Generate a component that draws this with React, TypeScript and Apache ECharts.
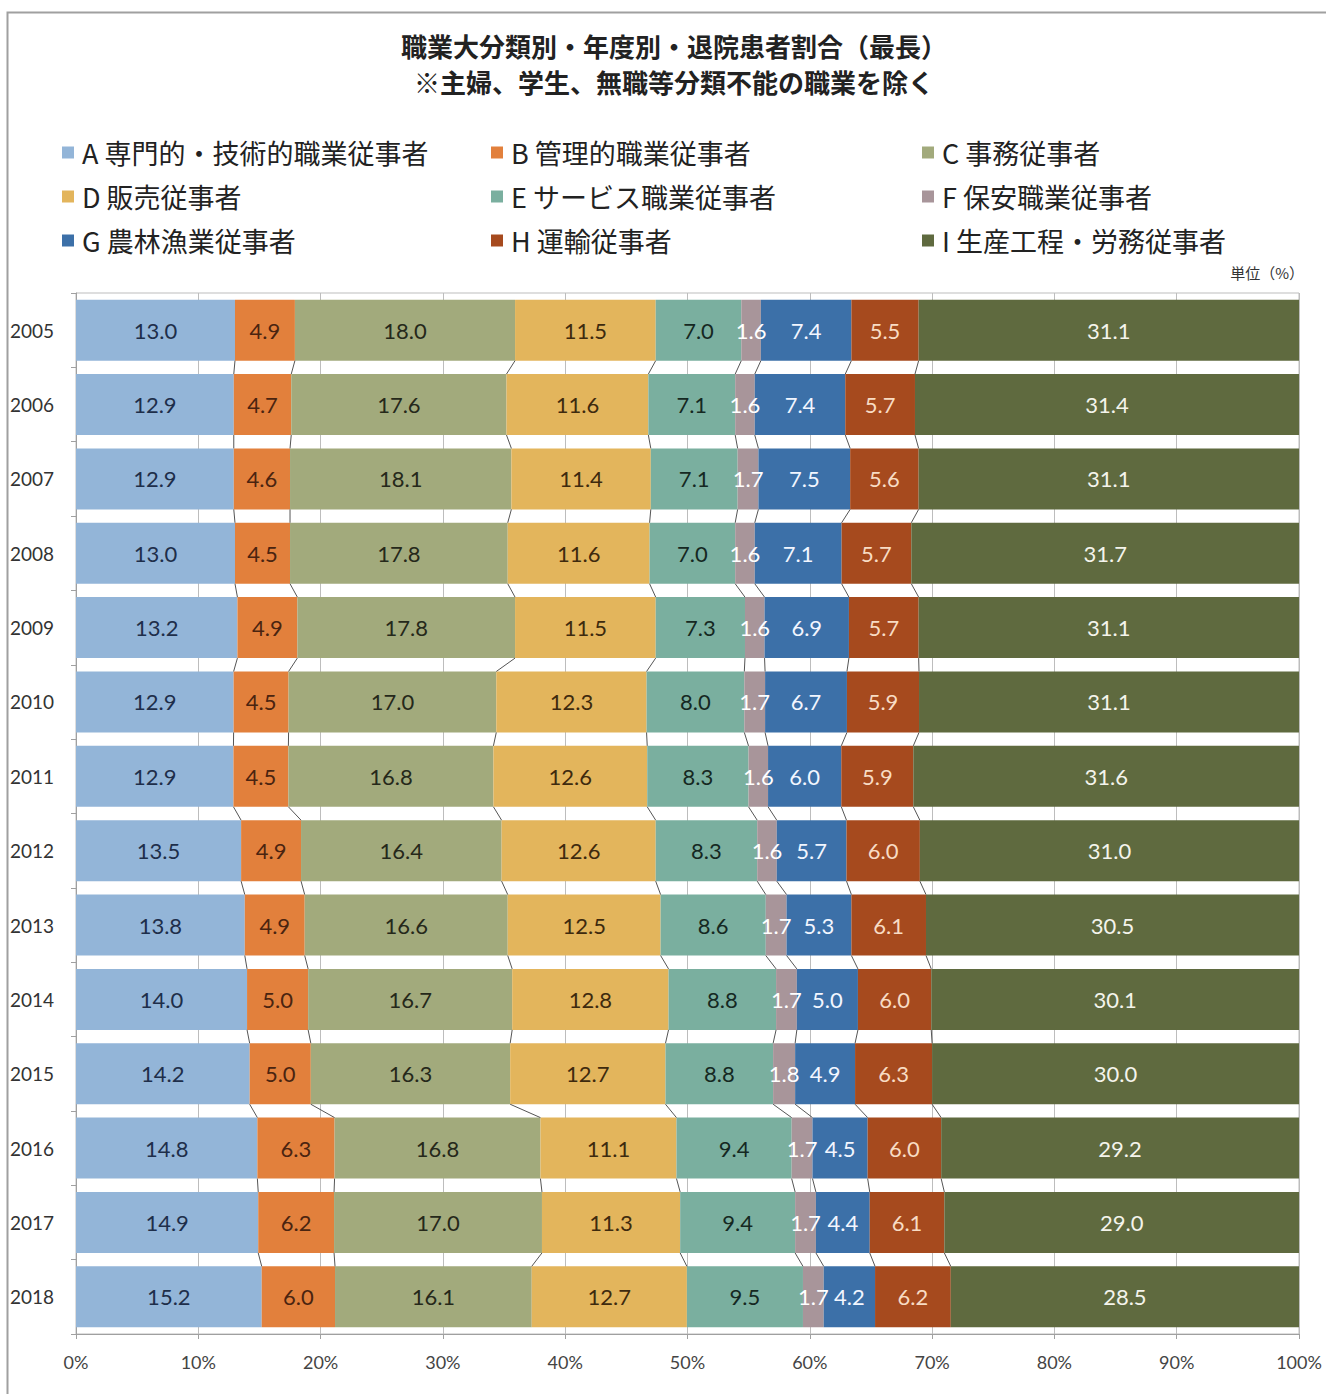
import React, { useEffect, useRef } from "react";
import * as echarts from "echarts";

const years = ["2005","2006","2007","2008","2009","2010","2011","2012","2013","2014","2015","2016","2017","2018"];
const seriesNames = [
  "A 専門的・技術的職業従事者",
  "B 管理的職業従事者",
  "C 事務従事者",
  "D 販売従事者",
  "E サービス職業従事者",
  "F 保安職業従事者",
  "G 農林漁業従事者",
  "H 運輸従事者",
  "I 生産工程・労務従事者",
];
const valA = [13.0,12.9,12.9,13.0,13.2,12.9,12.9,13.5,13.8,14.0,14.2,14.8,14.9,15.2];
const valB = [4.9,4.7,4.6,4.5,4.9,4.5,4.5,4.9,4.9,5.0,5.0,6.3,6.2,6.0];
const valC = [18.0,17.6,18.1,17.8,17.8,17.0,16.8,16.4,16.6,16.7,16.3,16.8,17.0,16.1];
const valD = [11.5,11.6,11.4,11.6,11.5,12.3,12.6,12.6,12.5,12.8,12.7,11.1,11.3,12.7];
const valE = [7.0,7.1,7.1,7.0,7.3,8.0,8.3,8.3,8.6,8.8,8.8,9.4,9.4,9.5];
const valF = [1.6,1.6,1.7,1.6,1.6,1.7,1.6,1.6,1.7,1.7,1.8,1.7,1.7,1.7];
const valG = [7.4,7.4,7.5,7.1,6.9,6.7,6.0,5.7,5.3,5.0,4.9,4.5,4.4,4.2];
const valH = [5.5,5.7,5.6,5.7,5.7,5.9,5.9,6.0,6.1,6.0,6.3,6.0,6.1,6.2];
const valI = [31.1,31.4,31.1,31.7,31.1,31.1,31.6,31.0,30.5,30.1,30.0,29.2,29.0,28.5];
const xTicks = ["0%","10%","20%","30%","40%","50%","60%","70%","80%","90%","100%"];

const allVals = [valA, valB, valC, valD, valE, valF, valG, valH, valI];
const colors = ["#93B5D8","#E2803C","#A2AA7C","#E3B55C","#7AAF9F","#A8959A","#3C70A8","#A64A1E","#5F6A3F"];
const labelColors = ["#1E2E4A","#4A2410","#25281A","#3E2A0E","#152822","#FFFFFF","#F2F6FF","#F8DCC4","#F4F4EC"];
const legendPos = [
  [62, 139], [491, 139], [922, 139],
  [62, 183], [491, 183], [922, 183],
  [62, 227], [491, 227], [922, 227],
];

const GAP = 0.18;
const CJK = "'Noto Sans CJK JP', sans-serif";
const NUM = "Lato, 'Noto Sans CJK JP', sans-serif";

export default function App() {
  const ref = useRef<HTMLDivElement>(null);
  useEffect(() => {
    if (!ref.current) return;
    const chart = echarts.init(ref.current, null, { renderer: "svg" });
    const totals = years.map((_, i) => allVals.reduce((s, arr) => s + arr[i], 0));
    const norm = allVals.map((arr) => arr.map((v, i) => (v / totals[i]) * 100));
    const lineData: number[][] = [];
    for (let k = 0; k < 8; k++) {
      for (let i = 0; i < years.length - 1; i++) {
        let c1 = 0, c2 = 0;
        for (let j = 0; j <= k; j++) { c1 += norm[j][i]; c2 += norm[j][i + 1]; }
        lineData.push([c1, c2, i]);
      }
    }
    const barSeries = seriesNames.map((name, s) => ({
      name,
      type: "bar",
      stack: "total",
      barCategoryGap: GAP * 100 + "%",
      itemStyle: { color: colors[s] },
      label: {
        show: true,
        position: "inside",
        color: labelColors[s],
        fontSize: 22,
        fontFamily: NUM,
        formatter: (p: any) => allVals[s][p.dataIndex].toFixed(1),
      },
      data: norm[s],
    }));
    const option: any = {
      animation: false,
      backgroundColor: "#ffffff",
      title: {
        text: "職業大分類別・年度別・退院患者割合（最長）\n※主婦、学生、無職等分類不能の職業を除く",
        left: 669,
        textAlign: "center",
        top: 22,
        textStyle: { fontSize: 26, fontWeight: "bold", color: "#222", fontFamily: CJK, lineHeight: 36 },
      },
      legend: seriesNames.map((name, s) => ({
        left: legendPos[s][0],
        top: legendPos[s][1],
        data: [name],
        icon: "rect",
        itemWidth: 12,
        itemHeight: 12,
        padding: 0,
        textStyle: { fontSize: 27, color: "#222", fontFamily: CJK, padding: [0, 0, 0, 3] },
      })),
      graphic: [
        {
          type: "rect",
          shape: { x: 7.5, y: 12.5, width: 1340, height: 1400 },
          style: { fill: "none", stroke: "#A0A0A0", lineWidth: 2 },
          silent: true,
        },
        {
          type: "text",
          x: 1304,
          y: 272,
          style: { text: "単位（%）", fontSize: 15, fill: "#333", fontFamily: CJK, textAlign: "right", textVerticalAlign: "middle" },
        },
      ],
      grid: {
        left: 76,
        right: 27,
        top: 293,
        bottom: 60,
        show: true,
        borderColor: "#BDBDBD",
        borderWidth: 1,
        containLabel: false,
      },
      xAxis: {
        type: "value",
        min: 0,
        max: 100,
        interval: 10,
        axisLine: { show: true, lineStyle: { color: "#A0A0A0" } },
        axisTick: { show: true, length: 5, lineStyle: { color: "#A0A0A0" } },
        splitLine: { show: true, lineStyle: { color: "#BDBDBD" } },
        axisLabel: {
          fontSize: 18,
          color: "#444",
          fontFamily: NUM,
          margin: 19,
          formatter: (v: number) => xTicks[Math.round(v / 10)],
        },
      },
      yAxis: {
        type: "category",
        inverse: true,
        data: years,
        axisLine: { show: true, lineStyle: { color: "#A0A0A0" } },
        axisTick: { show: true, length: 5, lineStyle: { color: "#A0A0A0" } },
        axisLabel: { fontSize: 19, color: "#333", fontFamily: NUM, align: "left", margin: 66 },
      },
      series: [
        ...barSeries,
        {
          type: "custom",
          silent: true,
          z: 5,
          encode: { x: [0, 1], y: 2 },
          renderItem: (params: any, api: any) => {
            const i = api.value(2);
            const p1 = api.coord([api.value(0), i]);
            const p2 = api.coord([api.value(1), i + 1]);
            const band = api.size([0, 1])[1];
            const half = (band * (1 - GAP)) / 2;
            return {
              type: "line",
              shape: { x1: p1[0], y1: p1[1] + half, x2: p2[0], y2: p2[1] - half },
              style: { stroke: "#555", lineWidth: 1 },
            };
          },
          data: lineData,
        },
      ],
    };
    chart.setOption(option);
    return () => chart.dispose();
  }, []);
  return (
    <div
      ref={ref}
      style={{ position: "absolute", left: 0, top: 0, width: 1326, height: 1394 }}
    />
  );
}
